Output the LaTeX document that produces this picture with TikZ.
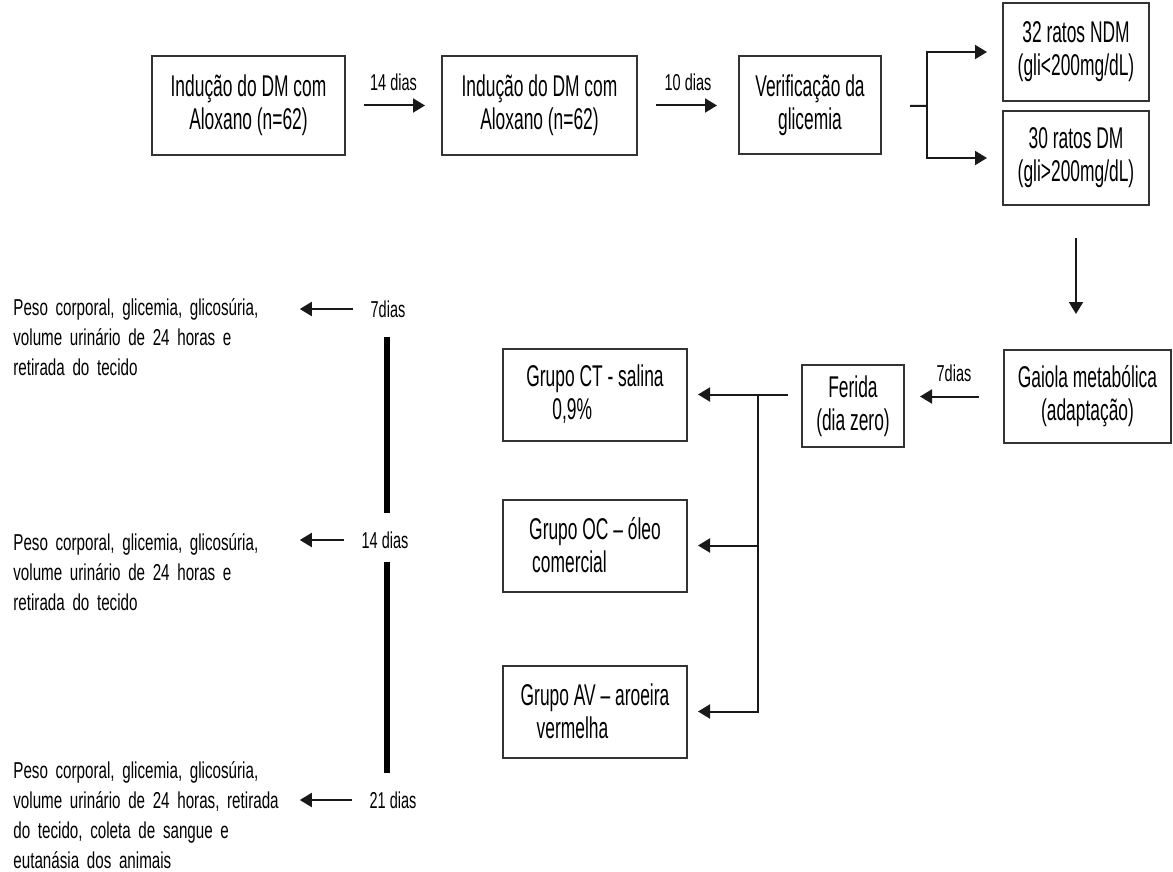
\documentclass[tikz,border=0pt]{standalone}
\usepackage{fontspec}
\setmainfont{Liberation Sans}
\newfontfamily\boxfont{Liberation Sans}[FakeStretch=0.58]
\newfontfamily\notefont{Liberation Sans}[FakeStretch=0.66]
\newfontfamily\dayfont{Liberation Sans}[FakeStretch=0.63]
\usetikzlibrary{positioning, arrows.meta}

\begin{document}
\begin{tikzpicture}[
  x=0.5pt, y=-0.5pt,
  box/.style = {draw=black!80, line width=1pt, align=center, inner sep=2pt, font=\boxfont\fontsize{15}{16.5}\selectfont},
  grupo/.style = {box, align=left, minimum width=92pt, minimum height=46pt},
  note/.style = {anchor=west, align=left, inner sep=0pt, text width=140pt, font=\notefont\fontsize{11.5}{15}\selectfont},
  day/.style = {inner sep=0pt, font=\dayfont\fontsize{11.5}{13}\selectfont},
  link/.style = {draw=black!90, line width=1pt},
  arrow/.style = {link, -{Triangle[length=6pt, width=7pt]}},
  timeline/.style = {line width=3pt}
]
\useasboundingbox (0,0) rectangle (1173,872);

% --- Inducao e verificacao
\node[box, minimum width=96.5pt, minimum height=49.5pt] (ind1) at (248.5,105.5) {Indução do DM com\\Aloxano (n=62)};
\node[box, minimum width=97.5pt, minimum height=49.5pt, right=47.5pt of ind1] (ind2) {Indução do DM com\\Aloxano (n=62)};
\node[box, minimum width=71pt, minimum height=49pt, right=50pt of ind2] (verif) {Verificação da\\glicemia};
\draw[arrow, shorten <=9pt, shorten >=8pt] (ind1) -- node[day, above=7pt] {14 dias} (ind2);
\draw[arrow, shorten <=9pt, shorten >=10.5pt] (ind2) -- node[day, above=7pt] {10 dias} (verif);

% --- Grupos de ratos
\node[box, minimum width=73pt, minimum height=49pt] (ndm) at (1076,52) {32 ratos NDM\\(gli<200mg/dL)};
\node[box, minimum width=73pt, minimum height=47pt, below=4pt of ndm] (dm) {30 ratos DM\\(gli>200mg/dL)};
\coordinate (split) at (927,106);
\draw[link, shorten <=14pt] (verif.east) -- (split);
\draw[arrow, shorten >=7.5pt] (split) |- (ndm.west);
\draw[arrow, shorten >=7.5pt] (split) |- (dm.west);

% --- Gaiola e ferida
\node[box, minimum width=83.5pt, minimum height=46.5pt] (gaiola) at (1087.5,396.5) {Gaiola metabólica\\(adaptação)};
\node[box, minimum width=51pt, minimum height=41pt] (ferida) at (853,406) {Ferida\\(dia zero)};
\draw[arrow, shorten <=16pt, shorten >=17.5pt] (dm.south) -- (dm.south |- gaiola.north);
\draw[arrow, shorten <=12pt, shorten >=7.5pt] (gaiola.west) -- node[day, above=7pt] {7dias} (ferida.east |- gaiola.west);

% --- Tratamentos
\node[grupo] (ct) at (595,394.5) {Grupo CT - salina\\\hspace*{13pt}0,9\%};
\node[grupo, below=28.5pt of ct] (oc) {Grupo OC – óleo\\\hspace*{1.5pt}comercial};
\node[grupo, below=36pt of oc] (av) {Grupo AV – aroeira\\\hspace*{8pt}vermelha};
\coordinate (hub) at (758,394.5);
\draw[arrow, shorten <=6.5pt, shorten >=5pt] (ferida.west |- ct.east) -- (ct.east);
\draw[arrow, shorten >=5pt] (hub) |- (oc.east);
\draw[arrow, shorten >=5pt] (hub) |- (av.east);

% --- Linha do tempo
\node[day] (d7) at (388,309) {7dias};
\node[day] (d14) at (385,540) {14 dias};
\node[day] (d21) at (393,800) {21 dias};
\coordinate (spine) at (387,0);
\draw[timeline, shorten <=14pt, shorten >=13.5pt] (spine |- d7) -- (spine |- d14);
\draw[timeline, shorten <=11pt, shorten >=13.5pt] (spine |- d14) -- (spine |- d21);

\node[note] (obs7) at (13,337) {Peso corporal, glicemia, glicosúria,\\volume urinário de 24 horas e\\retirada do tecido};
\node[note] (obs14) at (13,572) {Peso corporal, glicemia, glicosúria,\\volume urinário de 24 horas e\\retirada do tecido};
\node[note] (obs21) at (13,815) {Peso corporal, glicemia, glicosúria,\\volume urinário de 24 horas, retirada\\do tecido, coleta de sangue e\\eutanásia dos animais};
\draw[arrow, shorten <=8.5pt, shorten >=3pt] (d7.west) -- (d7.west -| obs7.east);
\draw[arrow, shorten <=8.5pt, shorten >=3pt] (d14.west) -- (d14.west -| obs14.east);
\draw[arrow, shorten <=8.5pt, shorten >=3pt] (d21.west) -- (d21.west -| obs21.east);

\end{tikzpicture}
\end{document}
